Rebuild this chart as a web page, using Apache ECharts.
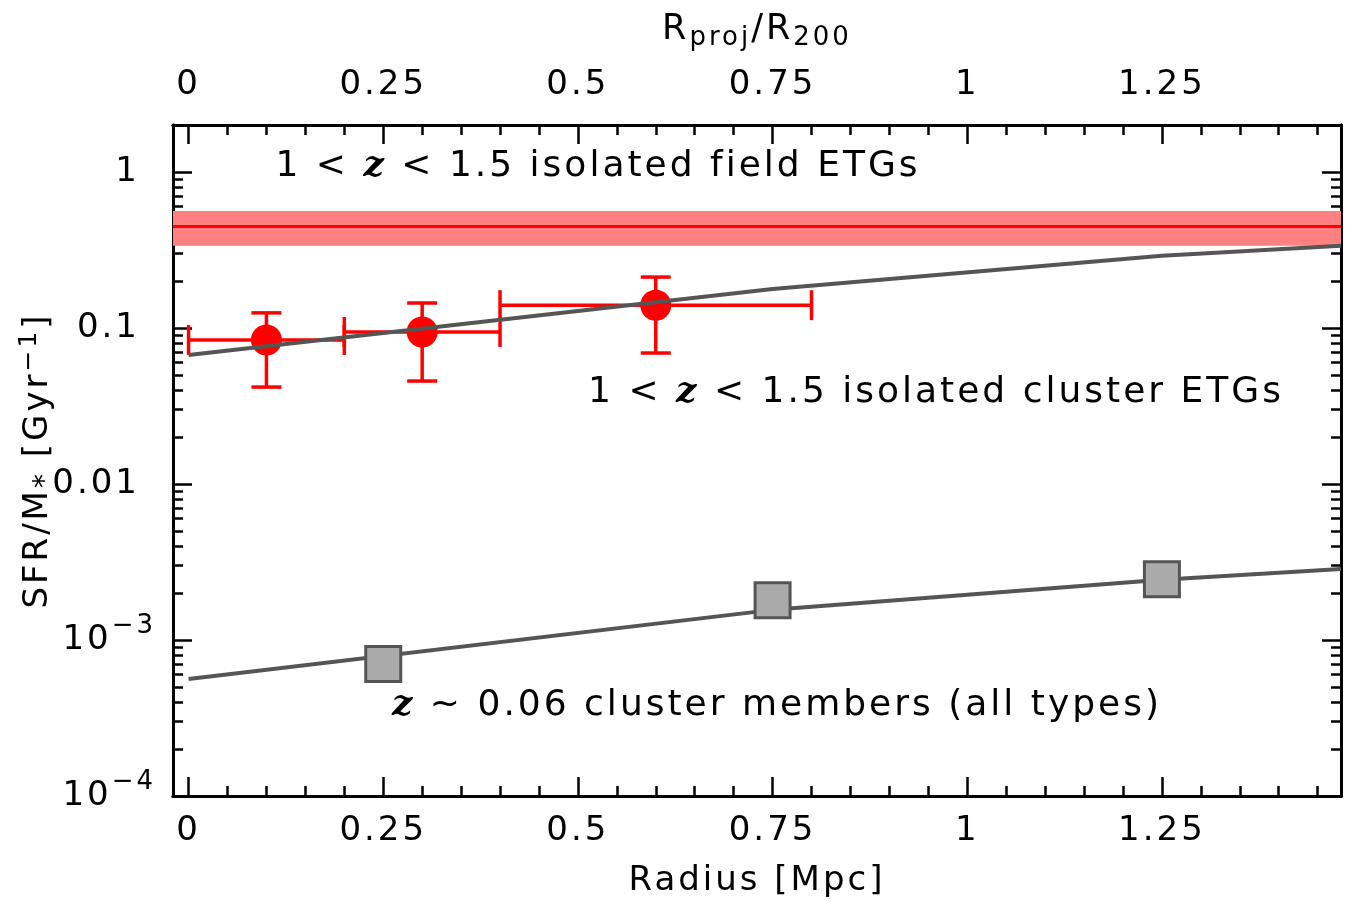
<!DOCTYPE html>
<html>
<head>
<meta charset="utf-8">
<style>
html, body { margin: 0; padding: 0; background: #fff; }
#chart { width: 1348px; height: 902px; }
</style>
<script src="https://cdn.jsdelivr.net/npm/echarts@6/dist/echarts.min.js"></script>
</head>
<body>
<div id="chart"></div>
<script>
// the original figure uses a wide, loosely spaced font: add letter spacing to every canvas text
const LETTER_SPACING = '3px';
const origFillText = CanvasRenderingContext2D.prototype.fillText;
const origMeasureText = CanvasRenderingContext2D.prototype.measureText;
CanvasRenderingContext2D.prototype.fillText = function (...args) {
    this.letterSpacing = LETTER_SPACING;
    return origFillText.apply(this, args);
};
CanvasRenderingContext2D.prototype.measureText = function (text) {
    this.letterSpacing = LETTER_SPACING;
    return origMeasureText.call(this, text);
};

// 1 < z < 1.5 isolated cluster ETGs (red points)
const redRadius = [0.1, 0.3, 0.6];
const redRadiusLo = [0, 0.2, 0.4];
const redRadiusHi = [0.2, 0.4, 0.8];
const redSSFR = [0.0838, 0.0942, 0.140];
const redSSFRLo = [0.0418, 0.0457, 0.0691];
const redSSFRHi = [0.125, 0.1446, 0.212];

// 1 < z < 1.5 isolated field ETGs (red band)
const fieldSSFR = 0.446;
const fieldSSFRLo = 0.337;
const fieldSSFRHi = 0.562;

// upper grey curve
const clusterCurveRadius = [0, 0.75, 1.25, 1.48];
const clusterCurveSSFR = [0.0671, 0.178, 0.290, 0.336];

// z ~ 0.06 cluster members (grey squares + curve)
const localRadius = [0.25, 0.75, 1.25];
const localSSFR = [7.02e-4, 1.80e-3, 2.45e-3];
const localCurveRadius = [0, 0.75, 1.25, 1.48];
const localCurveSSFR = [5.62e-4, 1.56e-3, 2.43e-3, 2.85e-3];

// ticks
const xTicks = [0, 0.25, 0.5, 0.75, 1, 1.25];
const xTickLabels = ['0', '0.25', '0.5', '0.75', '1', '1.25'];
const xMinorTicks = [0.05, 0.1, 0.15, 0.2, 0.3, 0.35, 0.4, 0.45, 0.55, 0.6, 0.65, 0.7,
    0.8, 0.85, 0.9, 0.95, 1.05, 1.1, 1.15, 1.2, 1.3, 1.35, 1.4, 1.45];
const yDecades = [-4, -3, -2, -1, 0];
const yTickLabels = ['{b|10}{e|−4}', '{b|10}{e|−3}', '{n|0.01}', '{n|0.1}', '{n|1}'];
const yMinorFactors = [2, 3, 4, 5, 6, 7, 8, 9];

const X_MIN = -0.02, X_MAX = 1.48;
const Y_MIN = -4, Y_MAX = Math.log10(2);

const FONT = 'DejaVu Sans';
const lg = v => Math.log10(v);

let yMinorTicks = [];
yDecades.forEach(d => yMinorFactors.forEach(f => {
    const v = d + lg(f);
    if (v <= Y_MAX + 1e-9) yMinorTicks.push(v);
}));

const frameLine = { show: true, onZero: false, lineStyle: { color: '#000', width: 3 } };

function xAxisDef(position, minor) {
    return {
        type: 'value',
        position: position,
        min: X_MIN,
        max: X_MAX,
        axisLine: frameLine,
        splitLine: { show: false },
        axisTick: {
            show: true,
            inside: true,
            length: minor ? 10 : 19,
            customValues: minor ? xMinorTicks : xTicks,
            lineStyle: { color: '#000', width: 2.5 }
        },
        axisLabel: {
            show: !minor,
            customValues: xTicks,
            margin: position === 'bottom' ? 17 : 21,
            color: '#000',
            fontFamily: FONT,
            fontSize: 34,
            formatter: v => xTickLabels[xTicks.indexOf(Math.round(v * 100) / 100)]
        }
    };
}

function yAxisDef(position, minor) {
    return {
        type: 'value',
        position: position,
        min: Y_MIN,
        max: Y_MAX,
        axisLine: frameLine,
        splitLine: { show: false },
        axisTick: {
            show: true,
            inside: true,
            length: minor ? 10 : 19,
            customValues: minor ? yMinorTicks : yDecades,
            lineStyle: { color: '#000', width: 2.5 }
        },
        axisLabel: {
            show: !minor && position === 'left',
            customValues: yDecades,
            margin: 17,
            color: '#000',
            formatter: v => yTickLabels[yDecades.indexOf(Math.round(v))],
            rich: {
                b: { fontFamily: FONT, fontSize: 34, lineHeight: 56, color: '#000' },
                e: { fontFamily: FONT, fontSize: 26, lineHeight: 26, verticalAlign: 'top', color: '#000' },
                n: { fontFamily: FONT, fontSize: 34, lineHeight: 56, padding: [0, 16, 0, 0], color: '#000' }
            }
        }
    };
}

const xAxes = [xAxisDef('bottom', false), xAxisDef('bottom', true), xAxisDef('top', false), xAxisDef('top', true)];
xAxes[0].name = 'Radius [Mpc]';
xAxes[0].nameLocation = 'middle';
xAxes[0].nameGap = 67;
xAxes[0].nameTextStyle = { fontFamily: FONT, fontSize: 34, color: '#000' };
xAxes[2].name = 'R{s|proj}/R{s|200}';
xAxes[2].nameLocation = 'middle';
xAxes[2].nameGap = 72;
xAxes[2].nameTextStyle = {
    fontFamily: FONT, fontSize: 35, lineHeight: 46, color: '#000',
    rich: {
        s: { fontFamily: FONT, fontSize: 26, lineHeight: 26, verticalAlign: 'bottom', color: '#000' }
    }
};

const yAxes = [yAxisDef('left', false), yAxisDef('left', true), yAxisDef('right', false), yAxisDef('right', true)];
yAxes[0].name = 'SFR/M{sub|*} [Gyr{sup|−1}]';
yAxes[0].nameLocation = 'middle';
yAxes[0].nameGap = 112;
yAxes[0].nameMoveOverlap = false;
yAxes[0].nameTextStyle = {
    fontFamily: FONT, fontSize: 34, lineHeight: 46, color: '#000',
    rich: {
        sub: { fontFamily: FONT, fontSize: 28, lineHeight: 26, verticalAlign: 'bottom', color: '#000' },
        sup: { fontFamily: FONT, fontSize: 25, lineHeight: 24, verticalAlign: 'top', color: '#000' }
    }
};

const errorData = redRadius.map((x, i) => [x, lg(redSSFR[i]), redRadiusLo[i], redRadiusHi[i], lg(redSSFRLo[i]), lg(redSSFRHi[i])]);

function renderErrorBar(params, api) {
    const c = api.coord([api.value(0), api.value(1)]);
    const xl = api.coord([api.value(2), api.value(1)])[0];
    const xh = api.coord([api.value(3), api.value(1)])[0];
    const yl = api.coord([api.value(0), api.value(4)])[1];
    const yh = api.coord([api.value(0), api.value(5)])[1];
    const cap = 15;
    const style = { stroke: '#ff0000', lineWidth: 3.5 };
    const seg = (x1, y1, x2, y2) => ({ type: 'line', shape: { x1, y1, x2, y2 }, style });
    return {
        type: 'group',
        children: [
            seg(xl, c[1], xh, c[1]),
            seg(xl, c[1] - cap, xl, c[1] + cap),
            seg(xh, c[1] - cap, xh, c[1] + cap),
            seg(c[0], yl, c[0], yh),
            seg(c[0] - cap, yl, c[0] + cap, yl),
            seg(c[0] - cap, yh, c[0] + cap, yh)
        ]
    };
}

const annotRich = {
    z: { fontFamily: 'DejaVu Serif', fontStyle: 'italic', fontWeight: 'bold', fontSize: 36, color: '#000' }
};
function annotation(x, y, text) {
    return {
        type: 'text',
        x: x,
        y: y,
        z: 100,
        style: {
            text: text,
            fontFamily: FONT,
            fontSize: 36,
            fill: '#000',
            align: 'center',
            verticalAlign: 'middle',
            rich: annotRich
        }
    };
}

const chart = echarts.init(document.getElementById('chart'), null, { renderer: 'canvas' });
chart.setOption({
    animation: false,
    backgroundColor: '#fff',
    grid: { left: 173, right: 7, top: 125, bottom: 106, containLabel: false, outerBoundsMode: 'none' },
    xAxis: xAxes,
    yAxis: yAxes,
    graphic: [
        annotation(598, 167, '1 < {z|z} < 1.5 isolated field ETGs'),
        annotation(936, 393, '1 < {z|z} < 1.5 isolated cluster ETGs'),
        annotation(777, 706, '{z|z} ~ 0.06 cluster members (all types)')
    ],
    series: [
        {
            // field band
            type: 'line',
            data: [],
            z: 1,
            markArea: {
                silent: true,
                itemStyle: { color: '#ff8080' },
                data: [[{ yAxis: lg(fieldSSFRLo) }, { yAxis: lg(fieldSSFRHi) }]]
            },
            markLine: {
                silent: true,
                symbol: 'none',
                label: { show: false },
                lineStyle: { color: '#ff0000', width: 3, type: 'solid' },
                data: [{ yAxis: lg(fieldSSFR) }]
            }
        },
        {
            type: 'custom',
            z: 2,
            renderItem: renderErrorBar,
            data: errorData
        },
        {
            type: 'scatter',
            z: 3,
            symbol: 'circle',
            symbolSize: 31,
            itemStyle: { color: '#ff0000', opacity: 1 },
            data: redRadius.map((x, i) => [x, lg(redSSFR[i])])
        },
        {
            type: 'line',
            z: 4,
            symbol: 'none',
            lineStyle: { color: '#555555', width: 4 },
            data: clusterCurveRadius.map((x, i) => [x, lg(clusterCurveSSFR[i])])
        },
        {
            type: 'line',
            z: 4,
            symbol: 'none',
            lineStyle: { color: '#555555', width: 4 },
            data: localCurveRadius.map((x, i) => [x, lg(localCurveSSFR[i])])
        },
        {
            type: 'scatter',
            z: 5,
            symbol: 'rect',
            symbolSize: 35,
            itemStyle: { color: '#aaaaaa', borderColor: '#555555', borderWidth: 3, opacity: 1 },
            data: localRadius.map((x, i) => [x, lg(localSSFR[i])])
        }
    ]
});
</script>
</body>
</html>
